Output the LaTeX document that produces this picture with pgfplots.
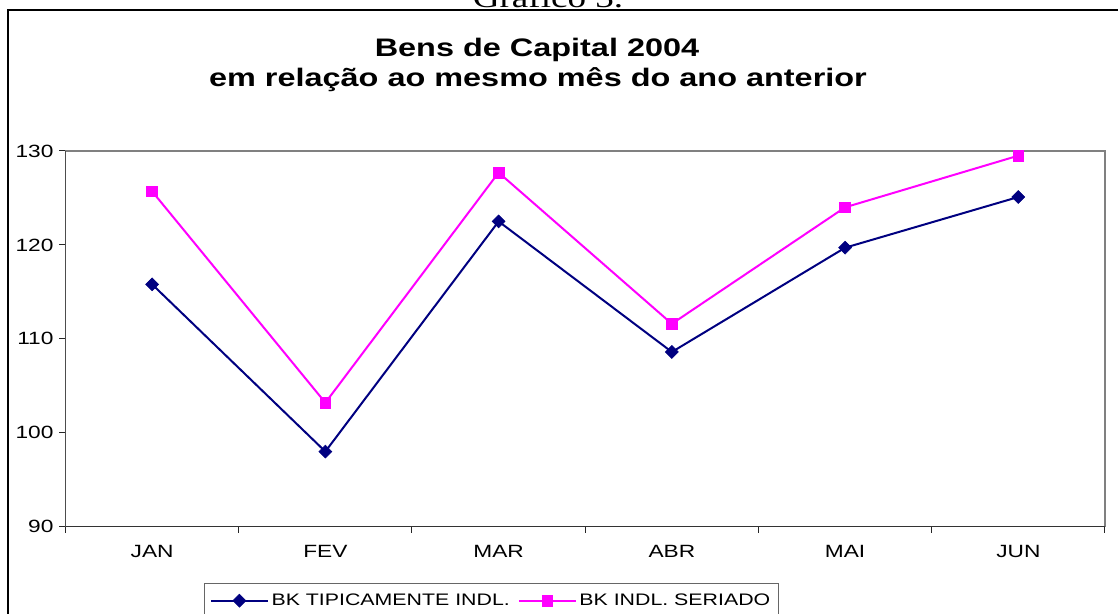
\documentclass[border=0pt]{standalone}
\usepackage{fontspec}
\setmainfont{Liberation Sans}[FakeStretch=1.28]
\newfontfamily\serifwide{Liberation Serif}[FakeStretch=1.28]
\usepackage{pgfplots}
\pgfplotsset{compat=1.18}
\definecolor{navyk}{HTML}{000080}
\definecolor{magk}{HTML}{FF00FF}
\begin{document}
\begin{tikzpicture}[x=0.75pt,y=0.75pt]
\useasboundingbox (0,0) rectangle (1118,614);
\draw[line width=1.5pt] (7.5,-20) |- (1140,603.5);
\node[anchor=base, font=\serifwide\fontsize{21.75}{24}\selectfont, inner sep=0] at (548,606) {Gráfico 3.};
\node[anchor=base, font=\bfseries\fontsize{19}{22}\selectfont, inner sep=0] at (537,557) {Bens de Capital 2004};
\node[anchor=base, font=\bfseries\fontsize{19}{22}\selectfont, inner sep=0] at (538,527) {em relação ao mesmo mês do ano anterior};
\begin{axis}[
  at={(49.125pt,65.475pt)}, anchor=south west, scale only axis,
  width=779.6pt, height=281.8pt,
  xmin=-0.5, xmax=5.5, ymin=90, ymax=130,
  ytick={90,100,110,120,130},
  xtick={0,...,5}, xticklabels={JAN,FEV,MAR,ABR,MAI,JUN},
  minor xtick={-0.5,0.5,...,5.5},
  tick align=outside, tick pos=left,
  major tick length=4.5pt, minor tick length=4.5pt,
  major x tick style={draw=none},
  tick style={black!85, line width=0.75pt},
  axis line style={draw=gray, line width=1.1pt},
  ticklabel style={font=\fontsize{13.3}{15}\selectfont},
  xticklabel style={yshift=-6pt},
  yticklabel style={xshift=-1pt},
  /pgf/number format/assume math mode=true,
  legend style={at={(0.1334,-0.149)}, anchor=north west, legend columns=2,
    draw=gray!80!black, line width=0.75pt, font=\fontsize{12.5}{15}\selectfont,
    inner ysep=6pt, inner xsep=4pt,
    /tikz/every even column/.append style={column sep=4pt}},
  legend image code/.code={\draw[#1, mark repeat=2, mark phase=2] plot coordinates {(0cm,0cm)(0.75cm,0cm)(1.5cm,0cm)};},
]
\addplot[navyk, line width=1.5pt, mark=square*, mark size=3.4pt, mark options={rotate=45, solid, line width=0.5pt}] coordinates {(0,115.8)(1,98.0)(2,122.5)(3,108.6)(4,119.7)(5,125.1)};
\addlegendentry{BK TIPICAMENTE INDL.}
\addplot[magk, line width=1.5pt, mark=square*, mark size=4pt, mark options={solid, line width=0.5pt}] coordinates {(0,125.7)(1,103.2)(2,127.7)(3,111.6)(4,124.0)(5,129.5)};
\addlegendentry{BK INDL. SERIADO}
\draw[line width=1.1pt, black!80] (rel axis cs:0,1) -- (rel axis cs:0,0) -- (rel axis cs:1,0);
\end{axis}
\end{tikzpicture}
\end{document}
